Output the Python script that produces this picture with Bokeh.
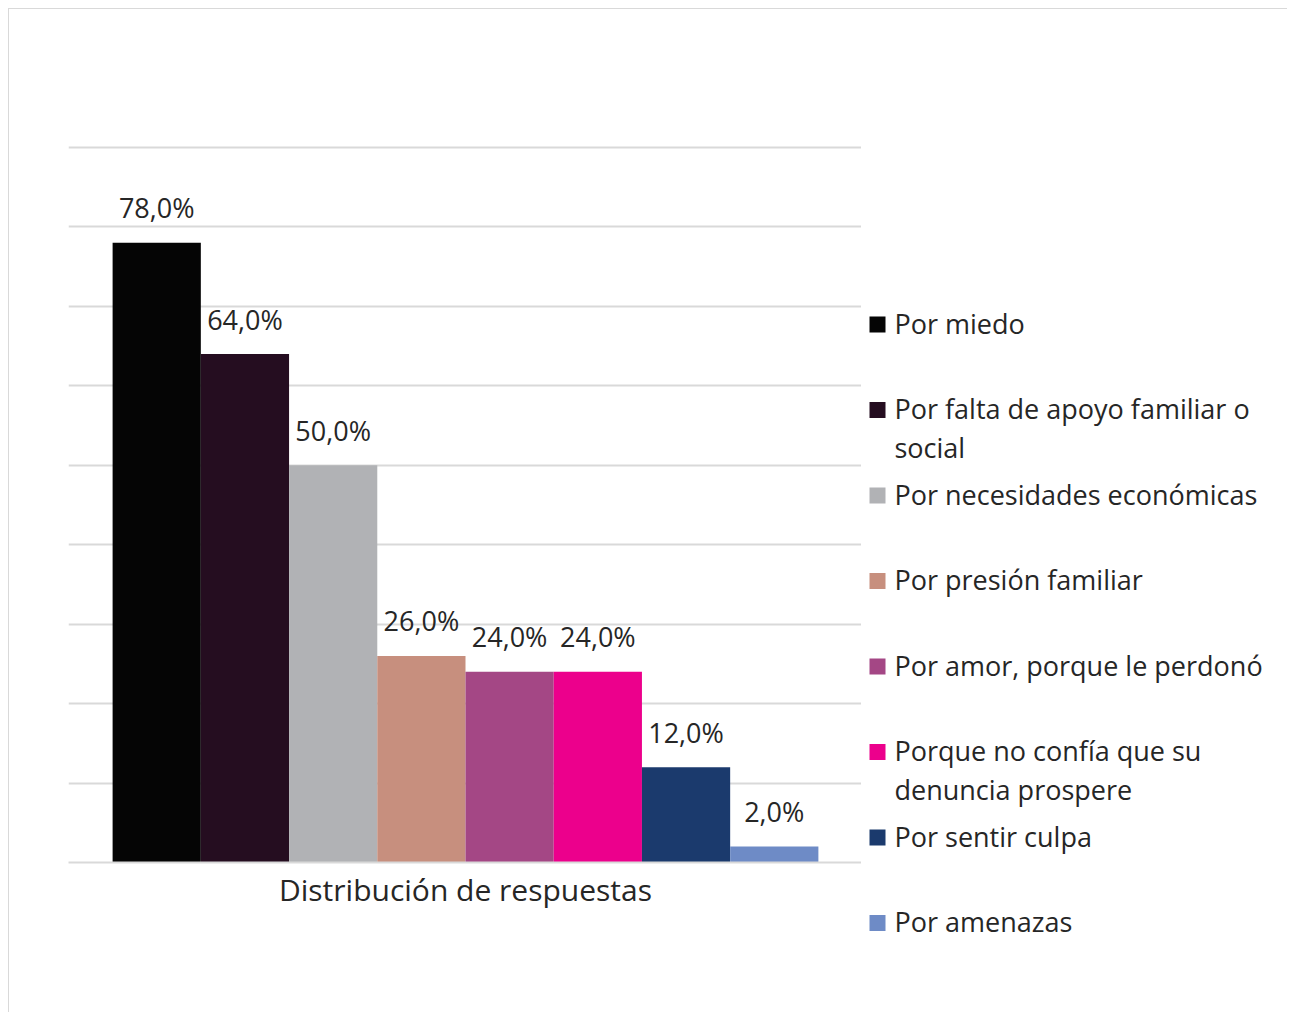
from bokeh.plotting import figure
from bokeh.layouts import row
from bokeh.models import ColumnDataSource, Range1d, FixedTicker
from bokeh.core.properties import value
from bokeh.embed import file_html
from bokeh.resources import INLINE

categories = ["Por miedo",
              "Por falta de apoyo familiar o\nsocial",
              "Por necesidades económicas",
              "Por presión familiar",
              "Por amor, porque le perdonó",
              "Porque no confía que su\ndenuncia prospere",
              "Por sentir culpa",
              "Por amenazas"]
values = [78.0, 64.0, 50.0, 26.0, 24.0, 24.0, 12.0, 2.0]
colors = ["#050505", "#250d20", "#b1b2b5", "#c78f7e", "#a44785", "#ec008c", "#1b3a6d", "#6e8bc6"]
y_ticks = [0, 10, 20, 30, 40, 50, 60, 70, 80, 90]
x_title = "Distribución de respuestas"

FONT = "Open Sans"
TXT = "#262626"
GRID = "#d9d9d9"
BORDER = "1px solid #d9d9d9"

idx = list(range(len(values)))
src = ColumnDataSource(dict(
    x=idx, top=values, color=colors,
    lab=[f"{v:.1f}".replace(".", ",") + "%" for v in values],
))

H = 1004
TOP = 130
BOTTOM = H - 853
p = figure(width=853, height=H, output_backend="svg", toolbar_location=None,
           x_range=Range1d(-1, len(values)), y_range=Range1d(0, max(y_ticks) + 1),
           min_border_left=59, min_border_right=0, min_border_top=TOP, min_border_bottom=BOTTOM)
p.vbar(x="x", top="top", bottom=0, width=1.0, color="color", line_color=None, source=src)
p.text(x="x", y="top", text="lab", source=src, text_align="center", text_baseline="alphabetic",
       y_offset=-35, text_font=value(FONT), text_font_size="27px", text_color=TXT)
p.outline_line_color = None
p.yaxis.visible = False
p.yaxis.ticker = FixedTicker(ticks=y_ticks)
p.ygrid.ticker = FixedTicker(ticks=y_ticks)
p.ygrid.grid_line_color = GRID
p.ygrid.grid_line_width = 2
p.xgrid.grid_line_color = None
p.xaxis.ticker = FixedTicker(ticks=[])
p.xaxis.axis_line_color = GRID
p.xaxis.axis_line_width = 2
p.xaxis.major_tick_line_color = None
p.xaxis.minor_tick_line_color = None
p.xaxis.axis_label = x_title
p.xaxis.axis_label_text_font = FONT
p.xaxis.axis_label_text_font_size = "30px"
p.xaxis.axis_label_text_font_style = "normal"
p.xaxis.axis_label_text_color = TXT
p.xaxis.axis_label_standoff = 6
p.styles = {"border-left": BORDER, "border-top": BORDER}

# legend panel
step = 85.5
first = 315.0
lsrc = ColumnDataSource(dict(x=[0] * len(categories), y=idx, color=colors, label=categories))
q = figure(width=426, height=H, output_backend="svg", toolbar_location=None,
           x_range=Range1d(-16, 410),
           y_range=Range1d((H - first) / step, -first / step),
           min_border=0)
q.frame_align = False
q.scatter(x="x", y="y", marker="square", size=16, color="color", line_color=None, source=lsrc)
q.text(x="x", y="y", text="label", source=lsrc, x_offset=17, y_offset=-20,
       text_align="left", text_baseline="top", text_line_height=1.05,
       text_font=value(FONT), text_font_size="27px", text_color=TXT)
q.axis.visible = False
q.grid.visible = False
q.outline_line_color = None
q.styles = {"border-top": BORDER}

lay = row(p, q, spacing=0)
lay.margin = (8, 0, 0, 8)
open("out.html", "w").write(file_html(lay, INLINE))
